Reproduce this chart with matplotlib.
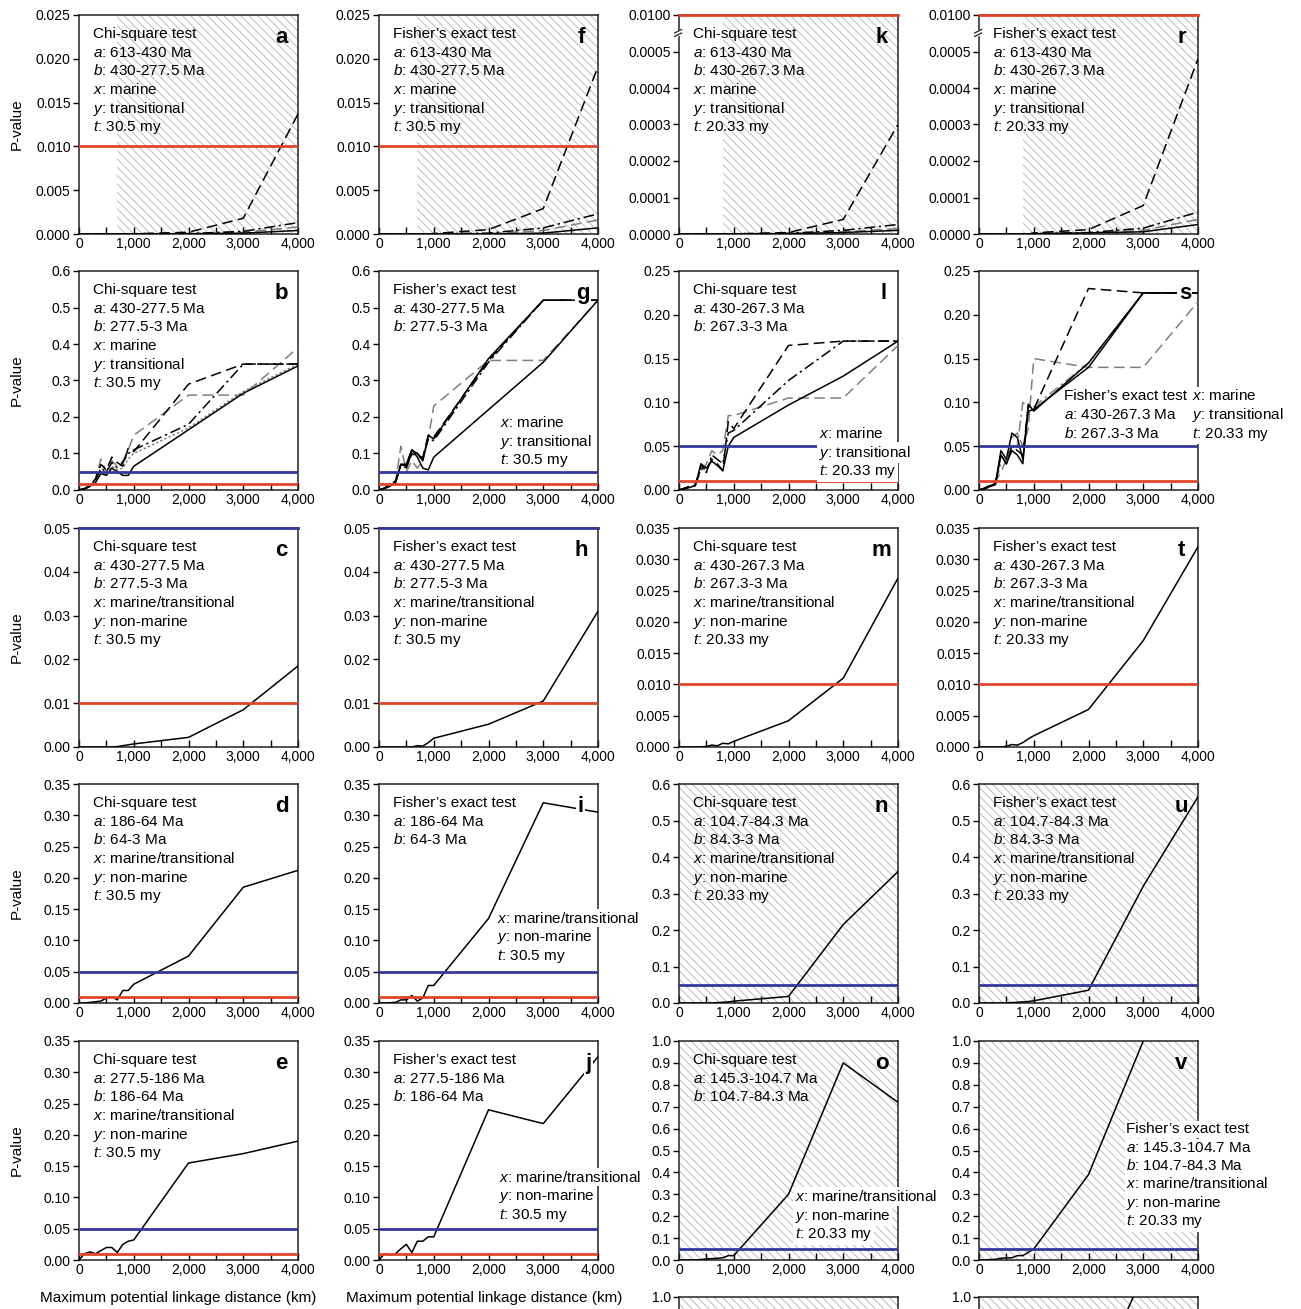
import matplotlib
matplotlib.use('Agg')
import matplotlib.pyplot as plt
from matplotlib.ticker import FixedLocator, FuncFormatter, MultipleLocator
from matplotlib.transforms import ScaledTranslation

plt.rcParams['font.family'] = ['Liberation Sans', 'DejaVu Sans']
plt.rcParams['mathtext.fontset'] = 'custom'
plt.rcParams['mathtext.rm'] = 'Liberation Sans'
plt.rcParams['mathtext.it'] = 'Liberation Sans:italic'
plt.rcParams['hatch.linewidth'] = 0.7

# ---------------- data ----------------
X = [0, 100, 200, 300, 400, 500, 600, 700, 800, 900, 1000, 2000, 3000, 4000]
XTICKS = [0, 1000, 2000, 3000, 4000]

# row 1
a_solid = [0, 0, 0, 0, 0, 0, 0, 0, 0, 0, 0, 0.00002, 0.0001, 0.0004]
a_dash = [0, 0, 0, 0, 0, 0, 0, 0, 0, 0, 0.00003, 0.0002, 0.0018, 0.0137]
a_dashdot = [0, 0, 0, 0, 0, 0, 0, 0, 0, 0, 0.00001, 0.00005, 0.0003, 0.0013]
a_gray = [0, 0, 0, 0, 0, 0, 0, 0, 0, 0, 0, 0.00003, 0.0002, 0.0008]

f_solid = [0, 0, 0, 0, 0, 0, 0, 0, 0, 0, 0, 0.00001, 0.0001, 0.0007]
f_dash = [0, 0, 0, 0, 0, 0, 0, 0, 0, 0, 0.00005, 0.0005, 0.0029, 0.0191]
f_dashdot = [0, 0, 0, 0, 0, 0, 0, 0, 0, 0, 0.00002, 0.0001, 0.0007, 0.0023]
f_gray = [0, 0, 0, 0, 0, 0, 0, 0, 0, 0, 0.00001, 0.00005, 0.0004, 0.0016]

k_solid = [0, 0, 0, 0, 0, 0, 0, 0, 0, 0, 0, 0.000001, 0.000004, 0.00001]
k_dash = [0, 0, 0, 0, 0, 0, 0, 0, 0, 0, 0.0000005, 0.000004, 0.00004, 0.0003]
k_dashdot = [0, 0, 0, 0, 0, 0, 0, 0, 0, 0, 0, 0.000002, 0.00001, 0.000026]
k_gray = [0, 0, 0, 0, 0, 0, 0, 0, 0, 0, 0, 0.000001, 0.000006, 0.000015]

r_solid = [0, 0, 0, 0, 0, 0, 0, 0, 0, 0, 0.000001, 0.000003, 0.000006, 0.000026]
r_dash = [0, 0, 0, 0, 0, 0, 0, 0, 0, 0, 0.000003, 0.000012, 0.000078, 0.00048]
r_dashdot = [0, 0, 0, 0, 0, 0, 0, 0, 0, 0, 0.000001, 0.000004, 0.000016, 0.00006]
r_gray = [0, 0, 0, 0, 0, 0, 0, 0, 0, 0, 0.000001, 0.000003, 0.00001, 0.00004]

# row 2
b_solid = [0, 0.003, 0.01, 0.02, 0.045, 0.04, 0.06, 0.05, 0.04, 0.04, 0.065, 0.165, 0.265, 0.34]
b_dash = [0, 0.004, 0.012, 0.03, 0.07, 0.055, 0.09, 0.075, 0.065, 0.115, 0.105, 0.29, 0.345, 0.345]
b_dashdot = [0, 0.003, 0.01, 0.025, 0.06, 0.05, 0.075, 0.06, 0.075, 0.1, 0.11, 0.18, 0.345, 0.345]
b_gray = [0, 0.004, 0.012, 0.03, 0.085, 0.05, 0.08, 0.065, 0.08, 0.11, 0.15, 0.26, 0.26, 0.39]
b_gdot = [0, 0.003, 0.01, 0.02, 0.05, 0.045, 0.065, 0.055, 0.06, 0.085, 0.1, 0.17, 0.27, 0.345]

g_solid = [0, 0.004, 0.01, 0.02, 0.07, 0.07, 0.11, 0.09, 0.06, 0.055, 0.09, 0.22, 0.35, 0.52]
g_solid2 = [0, 0.005, 0.015, 0.02, 0.07, 0.07, 0.11, 0.1, 0.08, 0.15, 0.14, 0.36, 0.52, 0.52]
g_dash = [0, 0.005, 0.015, 0.025, 0.07, 0.065, 0.1, 0.09, 0.09, 0.15, 0.145, 0.355, 0.52, 0.52]
g_dashdot = [0, 0.004, 0.012, 0.02, 0.07, 0.06, 0.1, 0.1, 0.085, 0.14, 0.135, 0.35, 0.52, 0.52]
g_gray = [0, 0.005, 0.015, 0.02, 0.12, 0.05, 0.08, 0.06, 0.08, 0.14, 0.23, 0.355, 0.355, 0.52]

l_solid = [0, 0.001, 0.003, 0.005, 0.03, 0.025, 0.033, 0.028, 0.022, 0.05, 0.06, 0.097, 0.13, 0.17]
l_dash = [0, 0.002, 0.004, 0.006, 0.028, 0.022, 0.035, 0.03, 0.022, 0.078, 0.07, 0.165, 0.17, 0.17]
l_dashdot = [0, 0.002, 0.004, 0.005, 0.025, 0.02, 0.04, 0.035, 0.03, 0.065, 0.068, 0.125, 0.17, 0.17]
l_gray = [0, 0.002, 0.005, 0.008, 0.02, 0.03, 0.045, 0.04, 0.045, 0.085, 0.085, 0.105, 0.105, 0.165]

s_solid = [0, 0.001, 0.004, 0.006, 0.045, 0.035, 0.065, 0.06, 0.035, 0.09, 0.092, 0.14, 0.225, 0.225]
s_solid2 = [0, 0.002, 0.005, 0.007, 0.04, 0.03, 0.045, 0.04, 0.03, 0.098, 0.09, 0.145, 0.225, 0.225]
s_dash = [0, 0.002, 0.005, 0.008, 0.04, 0.03, 0.05, 0.045, 0.04, 0.095, 0.092, 0.23, 0.225, 0.225]
s_gray = [0, 0.002, 0.006, 0.01, 0.02, 0.035, 0.06, 0.065, 0.05, 0.07, 0.15, 0.14, 0.14, 0.215]
s_gdashdot = [0, 0.001, 0.004, 0.008, 0.03, 0.03, 0.05, 0.05, 0.1, 0.095, 0.095, 0.145, 0.225, 0.225]

# row 3
c_solid = [0, 0, 0, 0, 0, 0, 0, 0.0001, 0.0003, 0.0005, 0.0007, 0.0022, 0.0085, 0.0185]
h_solid = [0, 0, 0, 0, 0, 0, 0, 0.0003, 0.0002, 0.001, 0.002, 0.0052, 0.0105, 0.031]
m_solid = [0, 0, 0, 0, 0, 0.0001, 0.0003, 0.0002, 0.0006, 0.0005, 0.0009, 0.0042, 0.011, 0.027]
t_solid = [0, 0, 0, 0, 0, 0.0001, 0.0004, 0.0003, 0.0007, 0.0013, 0.0018, 0.006, 0.017, 0.032]

# row 4
d_solid = [0, 0, 0.001, 0.002, 0.003, 0.008, 0.01, 0.005, 0.02, 0.02, 0.03, 0.075, 0.185, 0.212]
i_solid = [0, 0, 0.0005, 0.001, 0.005, 0.005, 0.012, 0.003, 0.008, 0.028, 0.028, 0.135, 0.32, 0.305]
n_solid = [0, 0, 0, 0, 0, 0, 0, 0.001, 0.002, 0.003, 0.005, 0.018, 0.215, 0.36]
u_solid = [0, 0, 0, 0, 0, 0, 0.001, 0.002, 0.003, 0.004, 0.006, 0.035, 0.32, 0.565]

# row 5
e_solid = [0, 0.01, 0.013, 0.01, 0.015, 0.02, 0.02, 0.012, 0.025, 0.03, 0.032, 0.155, 0.17, 0.19]
j_solid = [0, 0.01, 0.008, 0.01, 0.018, 0.025, 0.012, 0.03, 0.03, 0.037, 0.037, 0.24, 0.218, 0.325]
o_solid = [0, 0, 0, 0, 0.002, 0.005, 0.006, 0.008, 0.01, 0.02, 0.02, 0.3, 0.9, 0.72]
v_solid = [0, 0, 0.002, 0.003, 0.008, 0.01, 0.01, 0.02, 0.02, 0.035, 0.05, 0.39, 1.0, 1.4]

# row 6 (cut off)
w_solid = [0, 0, 0, 0, 0, 0, 0, 0, 0, 0, 0.05, 0.55, 1.1, 1.6]

# ---------------- figure ----------------
W, H = 1301, 1309
fig = plt.figure(figsize=(W / 100, H / 100), dpi=100)
fig.patch.set_facecolor('white')

COL_LEFT = [79, 379, 679, 979]
ROW_TOP = [15, 271, 528, 784, 1041, 1297]
AW, AH = 219, 219

RED = '#e1452b'
BLUE = '#33399a'
GRAY = '#808080'
HATCH_C = '#bcbcbc'

STY = {
    'solid': dict(color='black', ls='-', lw=1.1),
    'dash': dict(color='black', ls=(0, (7, 3.5)), lw=1.1),
    'dashdot': dict(color='black', ls=(0, (7, 2.5, 1.5, 2.5)), lw=1.1),
    'gray': dict(color=GRAY, ls=(0, (7, 3.5)), lw=1.1),
    'gdot': dict(color=GRAY, ls=(0, (1.5, 1.5)), lw=1.1),
    'gdashdot': dict(color=GRAY, ls=(0, (7, 2.5, 1.5, 2.5)), lw=1.1),
}


def make_ax(r, c):
    l = COL_LEFT[c]
    t = ROW_TOP[r]
    return fig.add_axes([l / W, 1 - (t + AH) / H, AW / W, AH / H])


def setup(ax, ymax, ystep, fmt, hatch_from=None, red=None, blue=None, top_label=None,
          only_top=False):
    ax.set_xlim(0, 4000)
    ax.set_ylim(0, ymax)
    ax.xaxis.set_major_locator(FixedLocator(XTICKS))
    ax.xaxis.set_minor_locator(MultipleLocator(500))
    ax.xaxis.set_major_formatter(FuncFormatter(lambda v, p: f"{int(round(v)):,}"))
    n = int(round(ymax / ystep))
    yt = [i * ystep for i in range(n + 1)]
    if only_top:
        yt = [ymax]
    labels = [fmt % v for v in yt]
    if top_label is not None:
        yt = yt + [top_label[0]]
        labels = labels + [top_label[1]]
    ax.set_yticks(yt)
    ax.set_yticklabels(labels)
    ax.tick_params(axis='x', which='both', direction='in', length=5, width=1,
                   labelsize=10, pad=2, top=False)
    ax.tick_params(axis='y', which='both', direction='out', length=4, width=1,
                   labelsize=10, pad=2, right=False)
    if only_top:
        ax.tick_params(axis='x', labelbottom=False)
    for sp in ax.spines.values():
        sp.set_linewidth(1.1)
        sp.set_color('#222222')
    if hatch_from is not None:
        ax.axvspan(hatch_from, 4000, facecolor='none', edgecolor=HATCH_C,
                   hatch='\\\\\\\\', lw=0, zorder=0)
    if red is not None:
        ax.axhline(red, color=RED, lw=2.0, zorder=4, clip_on=(red < ymax))
    if blue is not None:
        ax.axhline(blue, color=BLUE, lw=2.0, zorder=4, clip_on=(blue < ymax))


def series(ax, pairs):
    for ys, st in pairs:
        ax.plot(X, ys, zorder=3, **STY[st])


def block(ax, x, y, lines, box=False, step=18.7, size=11):
    for i, s in enumerate(lines):
        tr = ax.transAxes + ScaledTranslation(0, -i * step / 100, fig.dpi_scale_trans)
        kw = {}
        if box:
            kw['bbox'] = dict(facecolor='white', edgecolor='none', pad=1.2)
        ax.text(x, y, s, transform=tr, fontsize=size, va='baseline', ha='left',
                zorder=6, clip_on=False, **kw)


def letter(ax, s, x=0.925, y=0.87, box=False):
    kw = {}
    if box:
        kw['bbox'] = dict(facecolor='white', edgecolor='none', pad=1.0)
    ax.text(x, y, s, transform=ax.transAxes, fontsize=16, fontweight='bold',
            ha='center', va='baseline', zorder=7, **kw)


def L(k, rest):
    return f"${k}$: {rest}"


CHI = 'Chi-square test'
FIS = 'Fisher\u2019s exact test'


def full(test, a, b, x, y, t):
    return [test, L('a', a), L('b', b), L('x', x), L('y', y), L('t', t)]


TX, TY = 0.064, 0.895

# ---- row 1 ----
ax = make_ax(0, 0)
setup(ax, 0.025, 0.005, '%.3f', hatch_from=700, red=0.01)
series(ax, [(a_gray, 'gray'), (a_solid, 'solid'), (a_dashdot, 'dashdot'), (a_dash, 'dash')])
block(ax, TX, TY, full(CHI, '613-430 Ma', '430-277.5 Ma', 'marine', 'transitional', '30.5 my'))
letter(ax, 'a')

ax = make_ax(0, 1)
setup(ax, 0.025, 0.005, '%.3f', hatch_from=700, red=0.01)
series(ax, [(f_gray, 'gray'), (f_solid, 'solid'), (f_dashdot, 'dashdot'), (f_dash, 'dash')])
block(ax, TX, TY, full(FIS, '613-430 Ma', '430-277.5 Ma', 'marine', 'transitional', '30.5 my'))
letter(ax, 'f')


def broken(ax):
    ax.set_ylim(0, 0.0006)
    ax.axhline(0.0006, color=RED, lw=2.0, zorder=5, clip_on=False)
    yb = 0.93
    ax.plot([-0.012, 0.012], [yb - 0.018, yb - 0.008], transform=ax.transAxes,
            color='white', lw=4, clip_on=False, zorder=6)
    for dy in (-0.016, 0.0):
        ax.plot([-0.02, 0.012], [yb + dy - 0.012, yb + dy + 0.004], transform=ax.transAxes,
                color='#222222', lw=0.9, clip_on=False, zorder=7)


ax = make_ax(0, 2)
setup(ax, 0.0005, 0.0001, '%.4f', hatch_from=800, top_label=(0.0006, '0.0100'))
broken(ax)
series(ax, [(k_gray, 'gray'), (k_solid, 'solid'), (k_dashdot, 'dashdot'), (k_dash, 'dash')])
block(ax, TX, TY, full(CHI, '613-430 Ma', '430-267.3 Ma', 'marine', 'transitional', '20.33 my'))
letter(ax, 'k')

ax = make_ax(0, 3)
setup(ax, 0.0005, 0.0001, '%.4f', hatch_from=800, top_label=(0.0006, '0.0100'))
broken(ax)
series(ax, [(r_gray, 'gray'), (r_solid, 'solid'), (r_dashdot, 'dashdot'), (r_dash, 'dash')])
block(ax, TX, TY, full(FIS, '613-430 Ma', '430-267.3 Ma', 'marine', 'transitional', '20.33 my'))
letter(ax, 'r')

# ---- row 2 ----
ax = make_ax(1, 0)
setup(ax, 0.6, 0.1, '%.1f', red=0.0167, blue=0.05)
series(ax, [(b_gray, 'gray'), (b_gdot, 'gdot'), (b_dashdot, 'dashdot'), (b_dash, 'dash'), (b_solid, 'solid')])
block(ax, TX, TY, full(CHI, '430-277.5 Ma', '277.5-3 Ma', 'marine', 'transitional', '30.5 my'))
letter(ax, 'b')

ax = make_ax(1, 1)
setup(ax, 0.6, 0.1, '%.1f', red=0.0167, blue=0.05)
series(ax, [(g_gray, 'gray'), (g_dashdot, 'dashdot'), (g_dash, 'dash'), (g_solid2, 'solid'), (g_solid, 'solid')])
block(ax, TX, TY, [FIS, L('a', '430-277.5 Ma'), L('b', '277.5-3 Ma')])
block(ax, 0.553, 0.288, [L('x', 'marine'), L('y', 'transitional'), L('t', '30.5 my')], box=True)
letter(ax, 'g', x=0.93, box=True)

ax = make_ax(1, 2)
setup(ax, 0.25, 0.05, '%.2f', red=0.01, blue=0.05)
series(ax, [(l_gray, 'gray'), (l_dashdot, 'dashdot'), (l_dash, 'dash'), (l_solid, 'solid')])
block(ax, TX, TY, [CHI, L('a', '430-267.3 Ma'), L('b', '267.3-3 Ma')])
block(ax, 0.64, 0.237, [L('x', 'marine'), L('y', 'transitional'), L('t', '20.33 my')], box=True)
letter(ax, 'l', x=0.935)

ax = make_ax(1, 3)
setup(ax, 0.25, 0.05, '%.2f', red=0.01, blue=0.05)
series(ax, [(s_gray, 'gray'), (s_gdashdot, 'gdashdot'), (s_dash, 'dash'), (s_solid2, 'solid'), (s_solid, 'solid')])
block(ax, 0.39, 0.41, [FIS, L('a', '430-267.3 Ma'), L('b', '267.3-3 Ma')], box=True)
block(ax, 0.973, 0.41, [L('x', 'marine'), L('y', 'transitional'), L('t', '20.33 my')], box=True)
letter(ax, 's', x=0.94, box=True)

# ---- row 3 ----
ax = make_ax(2, 0)
setup(ax, 0.05, 0.01, '%.2f', red=0.01, blue=0.05)
series(ax, [(c_solid, 'solid')])
block(ax, TX, TY, full(CHI, '430-277.5 Ma', '277.5-3 Ma', 'marine/transitional', 'non-marine', '30.5 my'))
letter(ax, 'c')

ax = make_ax(2, 1)
setup(ax, 0.05, 0.01, '%.2f', red=0.01, blue=0.05)
series(ax, [(h_solid, 'solid')])
block(ax, TX, TY, full(FIS, '430-277.5 Ma', '277.5-3 Ma', 'marine/transitional', 'non-marine', '30.5 my'))
letter(ax, 'h')

ax = make_ax(2, 2)
setup(ax, 0.035, 0.005, '%.3f', red=0.01)
series(ax, [(m_solid, 'solid')])
block(ax, TX, TY, full(CHI, '430-267.3 Ma', '267.3-3 Ma', 'marine/transitional', 'non-marine', '20.33 my'))
letter(ax, 'm')

ax = make_ax(2, 3)
setup(ax, 0.035, 0.005, '%.3f', red=0.01)
series(ax, [(t_solid, 'solid')])
block(ax, TX, TY, full(FIS, '430-267.3 Ma', '267.3-3 Ma', 'marine/transitional', 'non-marine', '20.33 my'))
letter(ax, 't')

# ---- row 4 ----
ax = make_ax(3, 0)
setup(ax, 0.35, 0.05, '%.2f', red=0.01, blue=0.05)
series(ax, [(d_solid, 'solid')])
block(ax, TX, TY, full(CHI, '186-64 Ma', '64-3 Ma', 'marine/transitional', 'non-marine', '30.5 my'))
letter(ax, 'd')

ax = make_ax(3, 1)
setup(ax, 0.35, 0.05, '%.2f', red=0.01, blue=0.05)
series(ax, [(i_solid, 'solid')])
block(ax, TX, TY, [FIS, L('a', '186-64 Ma'), L('b', '64-3 Ma')])
block(ax, 0.54, 0.367, [L('x', 'marine/transitional'), L('y', 'non-marine'), L('t', '30.5 my')], box=True)
letter(ax, 'i', x=0.92, box=True)

ax = make_ax(3, 2)
setup(ax, 0.6, 0.1, '%.1f', hatch_from=0, blue=0.05)
series(ax, [(n_solid, 'solid')])
block(ax, TX, TY, full(CHI, '104.7-84.3 Ma', '84.3-3 Ma', 'marine/transitional', 'non-marine', '20.33 my'))
letter(ax, 'n')

ax = make_ax(3, 3)
setup(ax, 0.6, 0.1, '%.1f', hatch_from=0, blue=0.05)
series(ax, [(u_solid, 'solid')])
block(ax, TX, TY, full(FIS, '104.7-84.3 Ma', '84.3-3 Ma', 'marine/transitional', 'non-marine', '20.33 my'))
letter(ax, 'u')

# ---- row 5 ----
ax = make_ax(4, 0)
setup(ax, 0.35, 0.05, '%.2f', red=0.01, blue=0.05)
series(ax, [(e_solid, 'solid')])
block(ax, TX, TY, full(CHI, '277.5-186 Ma', '186-64 Ma', 'marine/transitional', 'non-marine', '30.5 my'))
letter(ax, 'e')

ax = make_ax(4, 1)
setup(ax, 0.35, 0.05, '%.2f', red=0.01, blue=0.05)
series(ax, [(j_solid, 'solid')])
block(ax, TX, TY, [FIS, L('a', '277.5-186 Ma'), L('b', '186-64 Ma')])
block(ax, 0.548, 0.358, [L('x', 'marine/transitional'), L('y', 'non-marine'), L('t', '30.5 my')], box=True)
letter(ax, 'j', x=0.955, box=True)

ax = make_ax(4, 2)
setup(ax, 1.0, 0.1, '%.1f', hatch_from=0, blue=0.05)
series(ax, [(o_solid, 'solid')])
block(ax, TX, TY, [CHI, L('a', '145.3-104.7 Ma'), L('b', '104.7-84.3 Ma')])
block(ax, 0.53, 0.27, [L('x', 'marine/transitional'), L('y', 'non-marine'), L('t', '20.33 my')], box=True)
letter(ax, 'o')

ax = make_ax(4, 3)
setup(ax, 1.0, 0.1, '%.1f', hatch_from=0, blue=0.05)
series(ax, [(v_solid, 'solid')])
block(ax, 0.673, 0.578, full(FIS, '145.3-104.7 Ma', '104.7-84.3 Ma', 'marine/transitional',
                             'non-marine', '20.33 my'), box=True, step=18.3)
letter(ax, 'v')

# ---- row 6 (cut off by the figure edge) ----
ax = make_ax(5, 2)
setup(ax, 1.0, 0.1, '%.1f', hatch_from=0, only_top=True)
ax = make_ax(5, 3)
setup(ax, 1.0, 0.1, '%.1f', hatch_from=0, only_top=True)
series(ax, [(w_solid, 'solid')])

# ---- shared labels ----
for r in range(5):
    yc = 1 - (ROW_TOP[r] + AH / 2) / H
    fig.text(17 / W, yc, 'P-value', rotation=90, ha='center', va='center', fontsize=11)
for xc in (178, 484):
    fig.text(xc / W, 1 - 1298 / H, 'Maximum potential linkage distance (km)',
             ha='center', va='center', fontsize=11)

fig.savefig('out.png', dpi=100, facecolor='white')
